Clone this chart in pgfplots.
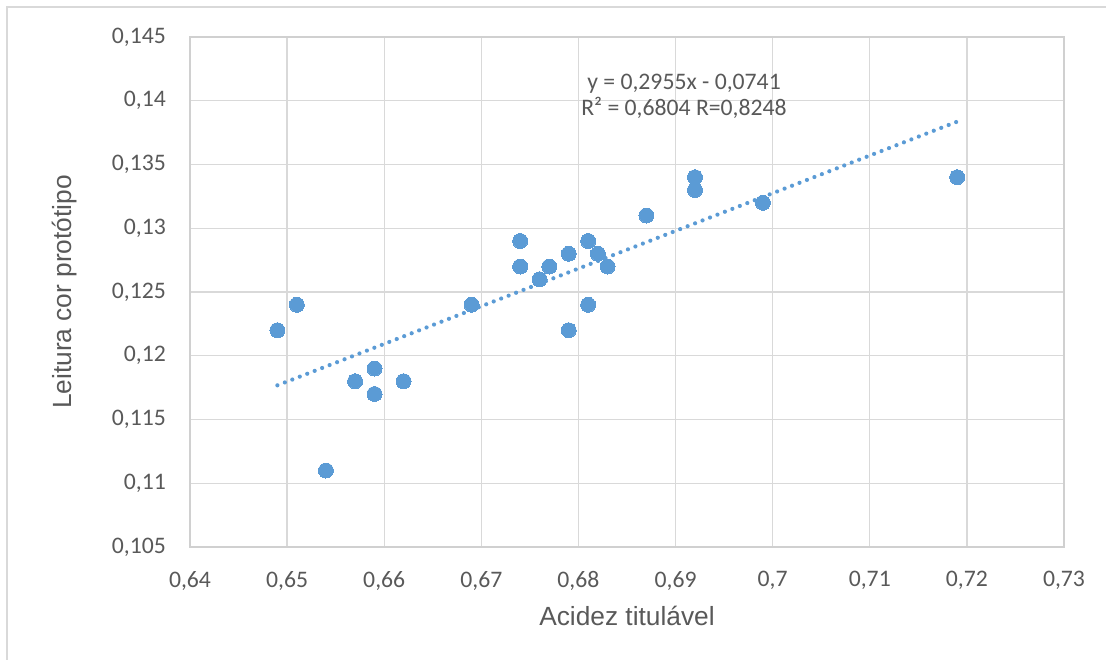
\documentclass[border=0pt]{standalone}
\usepackage{fontspec}
\setmainfont{Carlito}
\newfontfamily\arialf{Liberation Sans}
\usepackage{pgfplots}
\pgfplotsset{compat=1.18}
\definecolor{txt}{HTML}{595959}
\definecolor{gridc}{HTML}{D9D9D9}
\definecolor{axc}{HTML}{D0D0D0}
\definecolor{ptc}{HTML}{5B9BD5}
\begin{document}
\begin{tikzpicture}
\path[use as bounding box] (-190pt,-112pt) rectangle (916pt,547pt);
\begin{axis}[
  at={(0pt,0pt)}, anchor=south west,
  scale only axis, width=874pt, height=510pt,
  xmin=0.64, xmax=0.73, ymin=0.105, ymax=0.145,
  xtick={0.64,0.65,0.66,0.67,0.68,0.69,0.70,0.71,0.72,0.73},
  ytick={0.105,0.11,0.115,0.12,0.125,0.13,0.135,0.14,0.145},
  grid=major,
  major grid style={draw=gridc, line width=1.3pt},
  axis line style={draw=axc, line width=1.3pt},
  major tick length=0pt,
  tick style={draw=none},
  scaled ticks=false,
  /pgf/number format/fixed,
  /pgf/number format/precision=3,
  /pgf/number format/use comma,
  /pgf/number format/1000 sep={},
  /pgf/number format/assume math mode=true,
  tick label style={font=\fontsize{23.7}{28}\selectfont, text=txt, inner sep=0pt},
  xticklabel style={yshift=-24pt},
  yticklabel style={xshift=-24pt},
  xlabel={Acidez titulável},
  ylabel={Leitura cor protótipo},
  label style={font=\arialf\fontsize{26.3}{30}\selectfont, text=txt, inner sep=0pt},
  xlabel style={at={(axis description cs:0.5,-0.1543)}, anchor=base},
  ylabel style={at={(axis description cs:-0.1354,0.5)}, anchor=base, rotate=0},
]
\addplot[only marks, mark=*, mark size=7.5pt, mark options={fill=ptc, draw=ptc, line width=0pt}] coordinates {
(0.649,0.122) (0.651,0.124) (0.654,0.111) (0.657,0.118) (0.659,0.119) (0.659,0.117)
(0.662,0.118) (0.669,0.124) (0.674,0.129) (0.674,0.127) (0.676,0.126) (0.677,0.127)
(0.679,0.128) (0.679,0.122) (0.681,0.129) (0.681,0.124) (0.682,0.128) (0.683,0.127)
(0.687,0.131) (0.692,0.134) (0.692,0.133) (0.699,0.132) (0.719,0.134)
};
\addplot[ptc, line width=4.2pt, line cap=round, dash pattern=on 0pt off 8pt, no marks] coordinates {
(0.649,0.11768) (0.719,0.13836)
};
\node[anchor=base, font=\fontsize{23.7}{28}\selectfont, text=txt, inner sep=0pt] at (axis cs:0.69087,0.1409) {y = 0,2955x - 0,0741};
\node[anchor=base, font=\fontsize{23.7}{28}\selectfont, text=txt, inner sep=0pt] at (axis cs:0.69087,0.13888) {R² = 0,6804 R=0,8248};
\end{axis}
\draw[draw=gridc, line width=1.3pt] (-183pt,-130pt) -- (-183pt,540pt) -- (930pt,540pt);
\end{tikzpicture}
\end{document}
